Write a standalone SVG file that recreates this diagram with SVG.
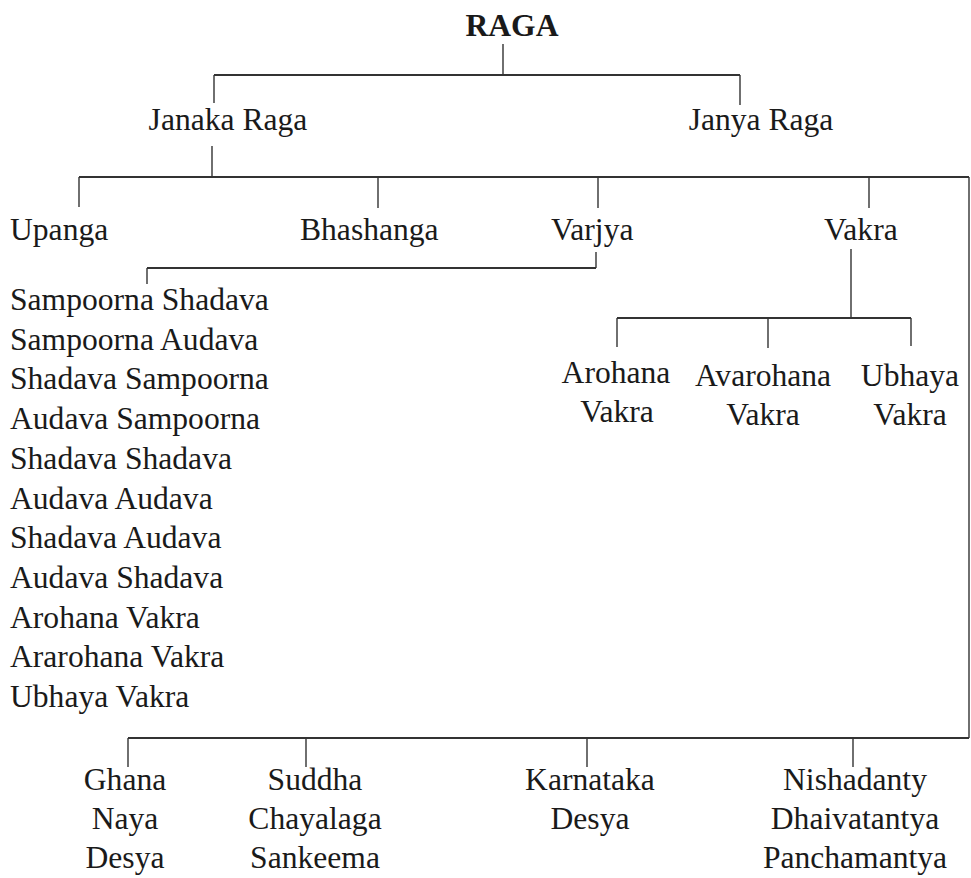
<svg xmlns="http://www.w3.org/2000/svg" width="971" height="878" viewBox="0 0 971 878">
<style>
text{font-family:"Liberation Serif","Times New Roman",serif;font-size:31.6px;fill:#1a1a1a}
.c{text-anchor:middle}
.b{font-weight:bold}
.conn line{stroke:#333;stroke-width:1.4}
.conn .h{stroke-width:1.8}
</style>
<rect width="971" height="878" fill="#fff"/>
<g class="conn" id="connectors">
<line x1="503" y1="44" x2="503" y2="75"/>
<line class="h" x1="214" y1="75" x2="740" y2="75"/>
<line x1="214" y1="75" x2="214" y2="103"/>
<line x1="740" y1="75" x2="740" y2="105"/>
<line x1="212" y1="146" x2="212" y2="177"/>
<line class="h" x1="79" y1="177" x2="969" y2="177"/>
<line x1="79" y1="177" x2="79" y2="207"/>
<line x1="378" y1="177" x2="378" y2="208"/>
<line x1="598" y1="177" x2="598" y2="208"/>
<line x1="869" y1="177" x2="869" y2="208"/>
<line x1="969" y1="177" x2="969" y2="738"/>
<line x1="596" y1="252" x2="596" y2="268"/>
<line class="h" x1="147" y1="268" x2="596" y2="268"/>
<line x1="147" y1="268" x2="147" y2="284"/>
<line x1="851" y1="249" x2="851" y2="318"/>
<line class="h" x1="617" y1="318" x2="911" y2="318"/>
<line x1="617" y1="318" x2="617" y2="347"/>
<line x1="768" y1="318" x2="768" y2="348"/>
<line x1="911" y1="318" x2="911" y2="346"/>
<line class="h" x1="128" y1="738" x2="969" y2="738"/>
<line x1="128" y1="738" x2="128" y2="767"/>
<line x1="306" y1="738" x2="306" y2="767"/>
<line x1="587" y1="738" x2="587" y2="767"/>
<line x1="853" y1="738" x2="853" y2="767"/>
</g>
<g id="raga"><text class="c b" x="512" y="36">RAGA</text></g>
<g id="janaka"><text class="c" x="228" y="130">Janaka Raga</text></g>
<g id="janya"><text class="c" x="761" y="130">Janya Raga</text></g>
<g id="upanga"><text x="10" y="240">Upanga</text></g>
<g id="bhashanga"><text x="300" y="240">Bhashanga</text></g>
<g id="varjya"><text x="551" y="240">Varjya</text></g>
<g id="vakra"><text x="824" y="240">Vakra</text></g>
<g id="varjya-list">
<text x="10" y="310">Sampoorna Shadava</text>
<text x="10" y="349.7">Sampoorna Audava</text>
<text x="10" y="389.4">Shadava Sampoorna</text>
<text x="10" y="429.1">Audava Sampoorna</text>
<text x="10" y="468.8">Shadava Shadava</text>
<text x="10" y="508.5">Audava Audava</text>
<text x="10" y="548.2">Shadava Audava</text>
<text x="10" y="587.9">Audava Shadava</text>
<text x="10" y="627.6">Arohana Vakra</text>
<text x="10" y="667.3">Ararohana Vakra</text>
<text x="10" y="707">Ubhaya Vakra</text>
</g>
<g id="arohana-vakra"><text class="c" x="616" y="383">Arohana</text><text class="c" x="617" y="422">Vakra</text></g>
<g id="avarohana-vakra"><text class="c" x="763" y="386">Avarohana</text><text class="c" x="763" y="425">Vakra</text></g>
<g id="ubhaya-vakra"><text class="c" x="910" y="386">Ubhaya</text><text class="c" x="910" y="425">Vakra</text></g>
<g id="ghana"><text class="c" x="125" y="790">Ghana</text><text class="c" x="125" y="829">Naya</text><text class="c" x="125" y="868">Desya</text></g>
<g id="suddha"><text class="c" x="315" y="790">Suddha</text><text class="c" x="315" y="829">Chayalaga</text><text class="c" x="315" y="868">Sankeema</text></g>
<g id="karnataka"><text class="c" x="590" y="790">Karnataka</text><text class="c" x="590" y="829">Desya</text></g>
<g id="nishadanty"><text class="c" x="855" y="790">Nishadanty</text><text class="c" x="855" y="829">Dhaivatantya</text><text class="c" x="855" y="868">Panchamantya</text></g>
</svg>
